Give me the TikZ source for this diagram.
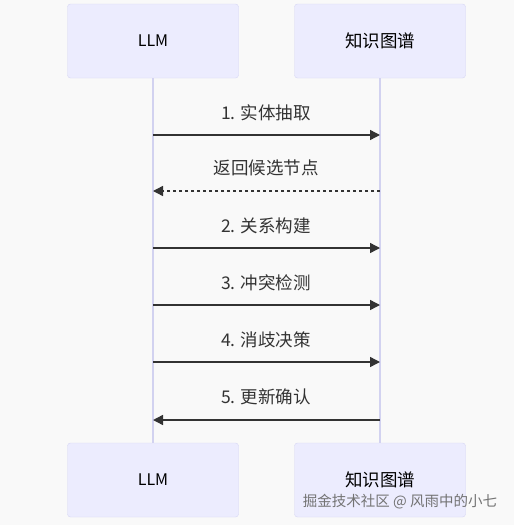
\documentclass[tikz,border=0pt]{standalone}
\usepackage{fontspec}
\setmainfont{Noto Sans CJK SC}
\usepackage{tikz}
\usetikzlibrary{positioning}
\usetikzlibrary{arrows.meta}
\definecolor{boxfill}{HTML}{ECECFE}
\definecolor{boxline}{HTML}{D6D6F4}
\definecolor{lifeline}{HTML}{D2D2F0}
\definecolor{msgline}{HTML}{333333}
\definecolor{bgcol}{HTML}{F9F9F9}

\begin{document}
\begin{tikzpicture}[x=1pt, y=-1pt,
    actor/.style={rectangle, draw=boxline, fill=boxfill, rounded corners=3pt,
        minimum width=171pt, minimum height=74pt, font=\fontsize{17.5}{19}\selectfont},
    msg/.style={draw=msgline, line width=1.4pt, -{Triangle[length=10pt,width=10pt]}},
    msgtext/.style={font=\fontsize{17.5}{19}\selectfont, text=msgline}]
    % Background
    \fill[bgcol] (0,0) rectangle (514,525);
    \useasboundingbox (0,0) rectangle (514,525);

    % Actors (top)
    \node[actor] (llm) at (153,41) {\fontsize{16}{18}\selectfont LLM};
    \node[actor] (kg) at (380,41) {知识图谱};

    % Actors (bottom)
    \node[actor] (llmb) at (153,480) {\fontsize{16}{18}\selectfont LLM};
    \node[actor] (kgb) at (380,480) {知识图谱};

    % Lifelines
    \draw[lifeline, line width=1.4pt] (llm) -- (llmb);
    \draw[lifeline, line width=1.4pt] (kg) -- (kgb);

    % Messages
    \coordinate (a1) at (153,135);  \coordinate (b1) at (380,135);
    \coordinate (a2) at (153,191);  \coordinate (b2) at (380,191);
    \coordinate (a3) at (153,248);  \coordinate (b3) at (380,248);
    \coordinate (a4) at (153,305);  \coordinate (b4) at (380,305);
    \coordinate (a5) at (153,362);  \coordinate (b5) at (380,362);
    \coordinate (a6) at (153,420);  \coordinate (b6) at (380,420);

    \draw[msg] (a1) -- (b1);
    \draw[msg, dash pattern=on 3pt off 3pt] (b2) -- (a2);
    \draw[msg] (a3) -- (b3);
    \draw[msg] (a4) -- (b4);
    \draw[msg] (a5) -- (b5);
    \draw[msg] (b6) -- (a6);

    % Labels
    \node[msgtext] (m1) at (266,113) {1. 实体抽取};
    \node[msgtext] (m2) at (266,168) {返回候选节点};
    \node[msgtext] (m3) at (266,226) {2. 关系构建};
    \node[msgtext] (m4) at (266,283) {3. 冲突检测};
    \node[msgtext] (m5) at (266,340) {4. 消歧决策};
    \node[msgtext] (m6) at (266,397) {5. 更新确认};

    % Watermark
    \node[font=\fontsize{14.5}{16}\selectfont, text=black!55] (wm) at (400,502) {掘金技术社区 @ 风雨中的小七};
\end{tikzpicture}
\end{document}
